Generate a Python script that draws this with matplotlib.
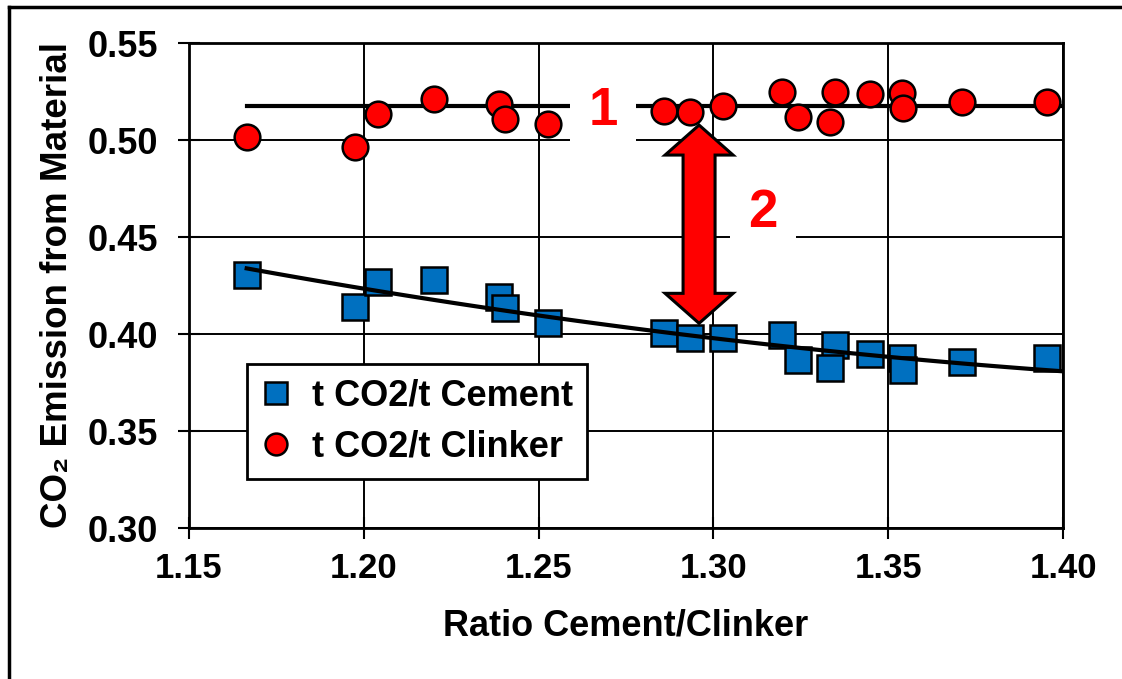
import numpy as np
import matplotlib.pyplot as plt
from matplotlib.lines import Line2D
from matplotlib.patches import Polygon
from matplotlib.transforms import IdentityTransform

# ratio cement/clinker and the two CO2 series
ratio = [1.1665, 1.1975, 1.2040, 1.2202, 1.2388, 1.2404, 1.2528, 1.2860, 1.2933, 1.3028,
         1.3195, 1.3243, 1.3348, 1.3334, 1.3448, 1.3539, 1.3543, 1.3710, 1.3953]
t_co2_cement = [0.4304, 0.4141, 0.4270, 0.4278, 0.4192, 0.4132, 0.4055, 0.4004, 0.3978, 0.3981,
                0.3995, 0.3866, 0.3943, 0.3823, 0.3895, 0.3875, 0.3814, 0.3857, 0.3875]
t_co2_clinker = [0.5017, 0.4962, 0.5134, 0.5211, 0.5186, 0.5108, 0.5082, 0.5150, 0.5146, 0.5177,
                 0.5246, 0.5120, 0.5249, 0.5094, 0.5237, 0.5241, 0.5163, 0.5194, 0.5194]
clinker_level = 0.5177

xticks = [1.15, 1.20, 1.25, 1.30, 1.35, 1.40]
yticks = [0.30, 0.35, 0.40, 0.45, 0.50, 0.55]

# annotation positions (labels "1", "2" and the double arrow)
label1_pos = (1.2685, 0.515)
label2_pos = (1.3142, 0.4624)
arrow_x, arrow_top, arrow_bottom = 1.2959, 0.5077, 0.4055

plt.rcParams['font.family'] = ['Liberation Sans', 'DejaVu Sans']
plt.rcParams['font.weight'] = 'bold'

W, H = 1122, 679
fig = plt.figure(figsize=(W / 100, H / 100), dpi=100)
ax = fig.add_axes([189 / W, 1 - 528 / H, 874 / W, 485 / H])

x = np.array(ratio)
yc = np.array(t_co2_cement)
xs = np.linspace(x.min(), xticks[-1], 100)

# trend lines
coef = np.polyfit(x, yc, 2)
ax.plot(x, yc, 's', ms=19, mfc='#0070C0', mec='black', mew=1.8, zorder=3,
        label='t CO2/t Cement')
ax.plot(xs, np.polyval(coef, xs), color='black', lw=3, zorder=4)
ax.plot([x.min(), xticks[-1]], [clinker_level, clinker_level], color='black', lw=3, zorder=4)
ax.plot(x, t_co2_clinker, 'o', ms=18.5, mfc='red', mec='black', mew=1.8, zorder=5,
        label='t CO2/t Clinker')

ax.set_xlim(xticks[0], xticks[-1])
ax.set_ylim(yticks[0], yticks[-1])
ax.set_xticks(xticks)
ax.set_yticks(yticks)
ax.set_xticklabels(['%.2f' % v for v in xticks])
ax.set_yticklabels(['%.2f' % v for v in yticks])
ax.grid(True, color='black', lw=1.4, zorder=0)
ax.set_axisbelow(True)
for s in ax.spines.values():
    s.set_linewidth(2)
ax.tick_params(axis='both', direction='inout', length=16, width=1.5)
ax.tick_params(axis='x', pad=9, labelsize=25)
ax.tick_params(axis='y', pad=14, labelsize=26)

ax.set_xlabel('Ratio Cement/Clinker', fontsize=26, fontweight='bold')
ax.xaxis.set_label_coords(0.5, -0.165)
ax.set_ylabel('CO₂ Emission from Material', fontsize=26.5, fontweight='bold')
ax.yaxis.set_label_coords(-0.13, 0.5)

leg = ax.legend(loc='lower left', bbox_to_anchor=(0.066, 0.101), borderaxespad=0,
                fontsize=26, markerscale=0.85, fancybox=False, framealpha=1,
                edgecolor='black', handlelength=0.8, handletextpad=0.6,
                borderpad=0.4, labelspacing=0.45)
leg.get_frame().set_linewidth(2)
leg.set_zorder(7)

box = dict(boxstyle='square,pad=0.35', fc='white', ec='none')
ax.text(*label1_pos, '1', color='red', fontsize=38, fontweight='bold',
        ha='center', va='center', bbox=box, zorder=4.5)
ax.text(*label2_pos, '2', color='red', fontsize=38, fontweight='bold',
        ha='center', va='center', bbox=box, zorder=4.5)

# double arrow drawn in pixel units
x0, ytop = ax.transData.transform((arrow_x, arrow_top))
_, ybot = ax.transData.transform((arrow_x, arrow_bottom))
hs, hh, hl = 16, 34, 30
verts = [(x0, ytop), (x0 + hh, ytop - hl), (x0 + hs, ytop - hl), (x0 + hs, ybot + hl),
         (x0 + hh, ybot + hl), (x0, ybot), (x0 - hh, ybot + hl), (x0 - hs, ybot + hl),
         (x0 - hs, ytop - hl), (x0 - hh, ytop - hl)]
ax.add_patch(Polygon(verts, closed=True, fc='red', ec='black', lw=2.2, joinstyle='miter',
                     transform=IdentityTransform(), zorder=6))

# frame lines on the top and left of the picture
fig.add_artist(Line2D([9 / W, 1], [1 - 7 / H, 1 - 7 / H], color='black', lw=2.5))
fig.add_artist(Line2D([9 / W, 9 / W], [0, 1 - 7 / H], color='black', lw=2.5))

fig.savefig('out.png', dpi=100)
